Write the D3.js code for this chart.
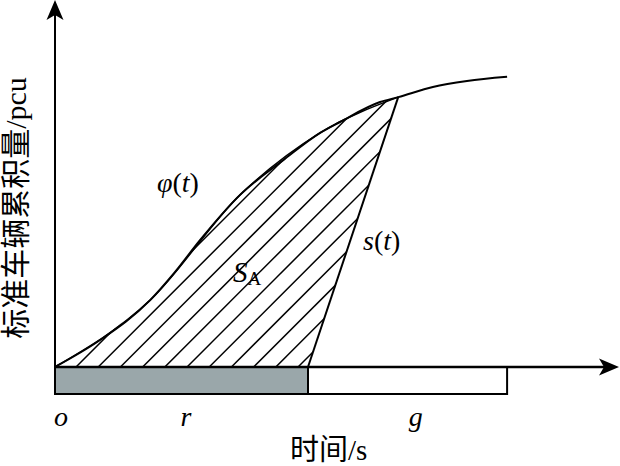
<!DOCTYPE html>
<html>
<head>
<meta charset="utf-8">
<script src="https://cdn.jsdelivr.net/npm/d3@7"></script>
<style>
  body { margin: 0; background: #fff; }
  svg { display: block; }
</style>
</head>
<body>
<script>
// cumulative arrival curve phi(t)
const arrTimes = [0, 8.2, 17.3, 21.8, 26.4, 33.6, 41.5, 48.2, 51.8, 59.1, 62.4, 68.7, 74.9, 82.2];
const arrCounts = [0, 7.7, 19.1, 27.1, 36.3, 49.1, 59.1, 66.9, 70, 75.7, 77.1, 80, 81.7, 82.9];
// departure line s(t)
const depTimes = [46, 62.4];
const depCounts = [0, 77.1];
// signal phases
const phaseNames = ["red", "green"];
const phaseStart = [0, 46];
const phaseEnd = [46, 82.2];
const phaseFill = ["#9aa7aa", "#fff"];
// tick labels under the bar
const tickNames = ["o", "r", "g"];
const tickTimes = [1.1, 23.8, 65.6];

const W = 620, H = 466;
const x = d3.scaleLinear().domain([0, 100]).range([55, 605]);
const y = d3.scaleLinear().domain([0, 100]).range([367, 17]);

const svg = d3.select("body").append("svg")
  .attr("width", W)
  .attr("height", H);

const serif = "'Liberation Serif', 'Times New Roman', serif";
const cjk = "'Liberation Serif', 'Noto Sans CJK SC', serif";

// hatched area between phi and s
const phiPts = arrTimes.map((t, i) => [t, arrCounts[i]]);
const upTo = phiPts.filter(d => d[0] <= depTimes[1]);
const area = upTo.concat([[depTimes[0], depCounts[0]]]);

svg.append("clipPath")
  .attr("id", "sa")
  .append("path")
  .attr("d", d3.line().x(d => x(d[0])).y(d => y(d[1])).curve(d3.curveLinear)(area) + "Z");

const hatch = svg.append("g").attr("clip-path", "url(#sa)");
const gap = 22.2, first = 76;
const starts = d3.range(first - gap * 20, x(depTimes[0]) + 1, gap);
hatch.selectAll("line")
  .data(starts)
  .enter()
  .append("line")
  .attr("x1", d => d)
  .attr("y1", y(0))
  .attr("x2", d => d + 400)
  .attr("y2", y(0) - 400)
  .attr("stroke", "#000")
  .attr("stroke-width", 1.5);

// rough edge of hatch (drawn through fewer points)
const edgeIdx = [0, 2, 5, 7, 10];
svg.append("path")
  .attr("d", d3.line().x(d => x(d[0])).y(d => y(d[1])).curve(d3.curveMonotoneX)(edgeIdx.map(i => phiPts[i])))
  .attr("fill", "none")
  .attr("stroke", "#000")
  .attr("stroke-width", 1.5);

// phi(t)
svg.append("path")
  .attr("d", d3.line().x(d => x(d[0])).y(d => y(d[1])).curve(d3.curveMonotoneX)(phiPts))
  .attr("fill", "none")
  .attr("stroke", "#000")
  .attr("stroke-width", 2);

// s(t)
svg.append("line")
  .attr("x1", x(depTimes[0]))
  .attr("y1", y(depCounts[0]))
  .attr("x2", x(depTimes[1]))
  .attr("y2", y(depCounts[1]))
  .attr("stroke", "#000")
  .attr("stroke-width", 2);

// signal bar
svg.selectAll("rect.phase")
  .data(phaseNames)
  .enter()
  .append("rect")
  .attr("class", "phase")
  .attr("x", (d, i) => x(phaseStart[i]))
  .attr("y", y(0))
  .attr("width", (d, i) => x(phaseEnd[i]) - x(phaseStart[i]))
  .attr("height", 27)
  .attr("fill", (d, i) => phaseFill[i])
  .attr("stroke", "#000")
  .attr("stroke-width", 2);

// axes with arrows
const arrow = "M0,0 L-20,-8.5 L-15,0 L-20,8.5 Z";
svg.append("line")
  .attr("x1", x(0)).attr("y1", y(0))
  .attr("x2", 606).attr("y2", y(0))
  .attr("stroke", "#000").attr("stroke-width", 2.5);
svg.append("path")
  .attr("d", arrow)
  .attr("transform", "translate(619," + y(0) + ")");
svg.append("line")
  .attr("x1", x(0)).attr("y1", y(0) + 1)
  .attr("x2", x(0)).attr("y2", 12)
  .attr("stroke", "#000").attr("stroke-width", 2);
svg.append("path")
  .attr("d", arrow)
  .attr("transform", "translate(" + x(0) + ",0) rotate(-90)");

// tick labels
svg.selectAll("text.tick")
  .data(tickNames)
  .enter()
  .append("text")
  .attr("class", "tick")
  .attr("x", (d, i) => x(tickTimes[i]))
  .attr("y", 426)
  .attr("text-anchor", "middle")
  .style("font-family", serif)
  .style("font-style", "italic")
  .style("font-size", "28px")
  .text(d => d);

// curve labels
const phiLab = svg.append("text")
  .attr("x", 157).attr("y", 192)
  .style("font-family", serif)
  .style("font-size", "28px");
phiLab.append("tspan").style("font-style", "italic").text("φ");
phiLab.append("tspan").text("(");
phiLab.append("tspan").style("font-style", "italic").text("t");
phiLab.append("tspan").text(")");

const sLab = svg.append("text")
  .attr("x", 363).attr("y", 250)
  .style("font-family", serif)
  .style("font-size", "28px");
sLab.append("tspan").style("font-style", "italic").text("s");
sLab.append("tspan").text("(");
sLab.append("tspan").style("font-style", "italic").text("t");
sLab.append("tspan").text(")");

const saLab = svg.append("text")
  .attr("x", 233).attr("y", 282)
  .style("font-family", serif)
  .style("font-size", "29px");
saLab.append("tspan").style("font-style", "italic").text("S");
saLab.append("tspan").attr("dy", 3).style("font-size", "19px").text("A");

// axis titles
svg.append("text")
  .attr("x", 290).attr("y", 460)
  .style("font-family", cjk)
  .style("font-size", "29px")
  .text("时间/s");

svg.append("text")
  .attr("transform", "rotate(-90)")
  .attr("x", -208).attr("y", 26)
  .attr("text-anchor", "middle")
  .style("font-family", cjk)
  .style("font-size", "30px")
  .text("标准车辆累积量/pcu");
</script>
</body>
</html>
